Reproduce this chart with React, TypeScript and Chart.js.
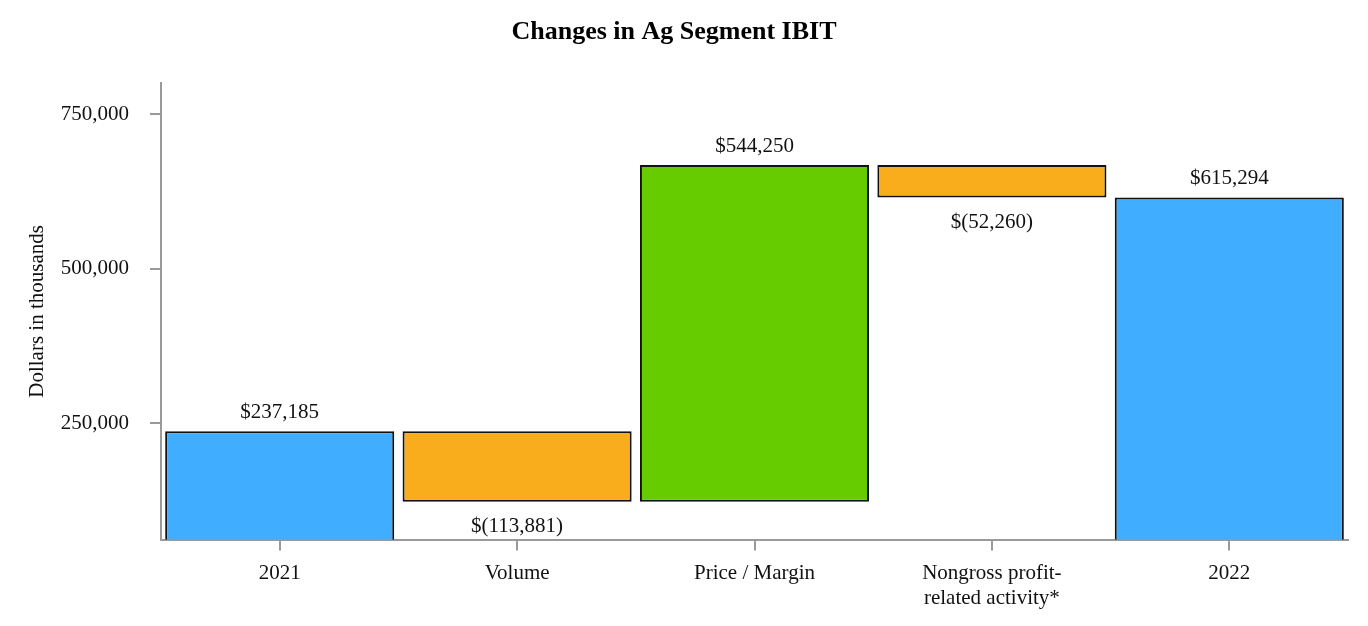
import React, { useEffect, useRef } from "react";
import { Chart, registerables } from "chart.js";

Chart.register(...registerables);

const categories: (string | string[])[] = [
  "2021",
  "Volume",
  "Price / Margin",
  ["Nongross profit-", "related activity*"],
  "2022",
];
const changes = [237185, -113881, 544250, -52260, 615294];
const isTotal = [true, false, false, false, true];
const barColors = ["#40ADFE", "#F9AC1C", "#66CC00", "#F9AC1C", "#40ADFE"];
const yTicks = [250000, 500000, 750000];
const yMin = 62000;
const yMax = 800000;

function buildRanges(): [number, number][] {
  const out: [number, number][] = [];
  let running = 0;
  changes.forEach((v, i) => {
    if (isTotal[i]) {
      out.push([0, v]);
      running = v;
    } else {
      out.push([running, running + v]);
      running = running + v;
    }
  });
  return out;
}

function fmt(v: number): string {
  const s = Math.abs(v).toLocaleString("en-US");
  return v < 0 ? `$(${s})` : `$${s}`;
}

const FONT = "'Liberation Serif', 'Times New Roman', serif";

export default function App() {
  const ref = useRef<HTMLCanvasElement | null>(null);
  useEffect(() => {
    document.body.style.margin = "0";
    const ranges = buildRanges();
    const labelPlugin = {
      id: "valueLabels",
      afterDatasetsDraw(chart: any) {
        const ctx = chart.ctx;
        const meta = chart.getDatasetMeta(0);
        ctx.save();
        ctx.font = `21px ${FONT}`;
        ctx.fillStyle = "#111";
        ctx.textAlign = "center";
        ctx.textBaseline = "middle";
        meta.data.forEach((bar: any, i: number) => {
          const v = changes[i];
          const top = Math.min(bar.y, bar.base);
          const bottom = Math.max(bar.y, bar.base);
          if (v >= 0) ctx.fillText(fmt(v), bar.x, top - 19);
          else ctx.fillText(fmt(v), bar.x, bottom + 25);
        });
        ctx.restore();
      },
    };
    const chart = new Chart(ref.current as HTMLCanvasElement, {
      type: "bar",
      data: {
        labels: categories as any,
        datasets: [
          {
            data: ranges as any,
            backgroundColor: barColors,
            borderColor: "#111",
            borderWidth: 2,
            borderSkipped: false,
            barPercentage: 0.965,
            categoryPercentage: 1,
          },
        ],
      },
      options: {
        responsive: false,
        animation: false,
        devicePixelRatio: 1,
        layout: { padding: { left: 0, right: 20, top: 0, bottom: 5 } },
        plugins: {
          legend: { display: false },
          tooltip: { enabled: false },
          title: {
            display: true,
            text: "Changes in Ag Segment IBIT",
            color: "#000",
            font: { family: FONT, size: 26, weight: "bold" },
            padding: { top: 17, bottom: 35 },
          },
        },
        scales: {
          x: {
            grid: { drawOnChartArea: false, drawTicks: true, tickLength: 11, color: "#9a9a9a", lineWidth: 2, offset: false },
            border: { color: "#9a9a9a", width: 2 },
            ticks: { color: "#111", font: { family: FONT, size: 21 }, padding: 10, maxRotation: 0, autoSkip: false },
          },
          y: {
            min: yMin,
            max: yMax,
            afterBuildTicks: (scale: any) => {
              scale.ticks = yTicks.map((v) => ({ value: v }));
            },
            afterFit: (scale: any) => {
              scale.width = 161;
            },
            grid: { drawOnChartArea: false, drawTicks: true, tickLength: 11, color: "#9a9a9a", lineWidth: 2 },
            border: { color: "#9a9a9a", width: 2 },
            ticks: {
              color: "#111",
              font: { family: FONT, size: 21 },
              padding: 21,
              callback: (v: any) => Number(v).toLocaleString("en-US"),
            },
            title: {
              display: true,
              text: "Dollars in thousands",
              color: "#111",
              font: { family: FONT, size: 21 },
              padding: { top: 25, bottom: 0 },
            },
          },
        },
      },
      plugins: [labelPlugin],
    });
    return () => chart.destroy();
  }, []);
  return <canvas ref={ref} width={1368} height={626} style={{ display: "block" }} />;
}
